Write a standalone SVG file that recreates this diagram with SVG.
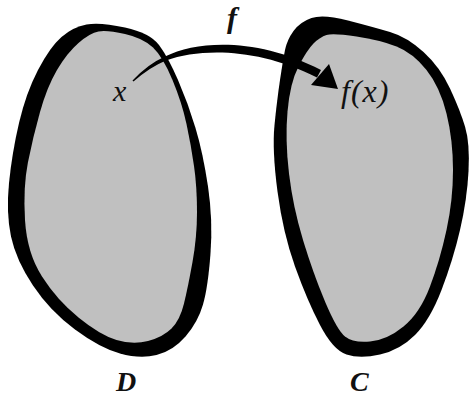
<svg xmlns="http://www.w3.org/2000/svg" width="470" height="398" viewBox="0 0 470 398">
<defs>
<path id="dOuter" d="M125,27.5 Q150,33 159,45 Q168,57 178,80 Q188,103 195.5,128 Q203,153 208,186.5 Q213,220 210.5,253.5 Q208,287 203,304.5 Q198,322 185.5,336.5 Q173,351 156.5,355 Q140,359 120,353.5 Q100,348 75,329.5 Q50,311 33,285.5 Q16,260 11,236.5 Q6,213 9,183 Q12,153 19,123 Q26,93 38,70 Q50,47 61.5,37 Q73,27 86.5,24.5 Q100,22 125,27.5 Z"/>
</defs>
<rect width="470" height="398" fill="#fff"/>
<g id="D">
<use href="#dOuter" fill="#000"/>
<path fill="#c0c0c0" d="M125,34 Q143,38 153,47.5 Q163,57 172.5,80 Q182,103 186.5,124 Q191,145 194,166 Q197,187 197,212 Q197,237 192.5,262 Q188,287 184,303.5 Q180,320 171.5,328.5 Q163,337 148,341 Q133,345 116.5,340 Q100,335 78.5,317.5 Q57,300 42,276.5 Q27,253 25,220 Q23,187 28,162 Q33,137 40,112 Q47,87 57,70 Q67,53 78.5,43 Q90,33 98.5,31.5 Q107,30 125,34 Z"/>
<text x="113" y="101" font-family="Liberation Serif" font-style="italic" font-size="30" fill="#111">x</text>
<text x="116" y="391" font-family="Liberation Serif" font-style="italic" font-weight="bold" font-size="28" fill="#111">D</text>
</g>
<g id="C">
<path fill="#000" d="M348,20.5 Q373,27 390,32 Q407,37 423.5,52 Q440,67 450,88.5 Q460,110 465,126.5 Q470,143 468.5,171.5 Q467,200 460,230 Q453,260 441.5,290 Q430,320 415,335 Q400,350 380,354.5 Q360,359 346.5,354.5 Q333,350 320,325 Q307,300 295,266.5 Q283,233 277.5,191.5 Q272,150 274.5,125 Q277,100 280,80 Q283,60 285,50 Q287,40 293.5,31 Q300,22 311.5,18 Q323,14 348,20.5 Z"/>
<path fill="#c0c0c0" d="M356.5,36.5 Q380,40 396.5,46.5 Q413,53 426.5,70 Q440,87 446.5,113.5 Q453,140 453,170 Q453,200 446.5,230 Q440,260 430,286.5 Q420,313 403.5,326.5 Q387,340 370,341.5 Q353,343 345,336.5 Q337,330 325,301.5 Q313,273 303,240 Q293,207 289,173.5 Q285,140 287.5,111.5 Q290,83 298.5,66.5 Q307,50 313.5,43.5 Q320,37 326.5,35 Q333,33 356.5,36.5 Z"/>
<text x="341" y="102" font-family="Liberation Serif" font-style="italic" font-size="32" letter-spacing="1" fill="#111">f(x)</text>
<text x="350" y="391" font-family="Liberation Serif" font-style="italic" font-weight="bold" font-size="28" fill="#111">C</text>
</g>
<g id="connectors">
<path d="M132.5,80.5 Q148,64 165,56.5 C200,39 262,39 321,70 L317,77.5 C258,48 202,48 166,60.5 Q150,67 133.5,81.5 Z" fill="#000"/>
<polygon points="338,89 329,64 311,85" fill="#000"/>
<text x="227" y="28" font-family="Liberation Serif" font-style="italic" font-weight="bold" font-size="30" fill="#111">f</text>
</g>
</svg>
